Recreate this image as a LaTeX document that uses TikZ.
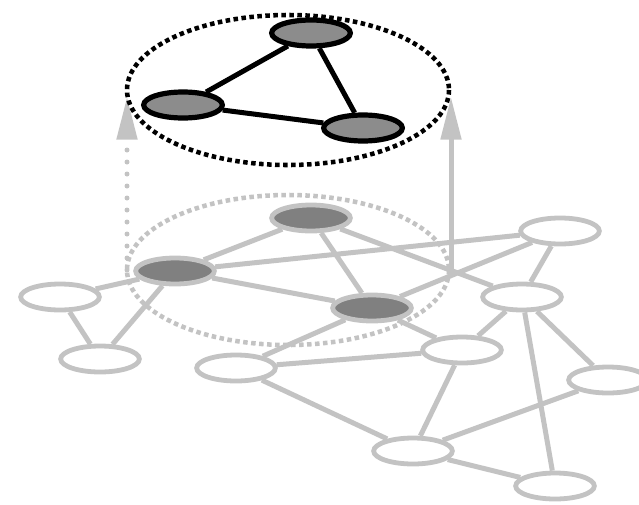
\documentclass[tikz,border=0pt]{standalone}
\usepackage{tikz}
\usetikzlibrary{shapes.geometric,arrows.meta}
\definecolor{lgray}{HTML}{C3C3C3}
\definecolor{dgray}{HTML}{808080}
\definecolor{mgray}{HTML}{8C8C8C}

\begin{document}
\begin{tikzpicture}[x=0.75pt,y=-0.75pt,
  vtx/.style={ellipse,draw=lgray,line width=3.6pt,fill=white,minimum width=59pt,minimum height=19.5pt,inner sep=0pt},
  hub/.style={vtx,fill=dgray},
  sub/.style={vtx,draw=black,fill=mgray,line width=3.9pt},
  edge/.style={lgray,line width=3.75pt},
  lift/.style={lgray,line width=3.75pt,-{Triangle[length=32pt,width=15pt]}}]
\useasboundingbox (0,0) rectangle (639,504);

\draw[lgray,line width=3.4pt,dash pattern=on 3.4pt off 2.6pt] (288,270) ellipse [x radius=161, y radius=75];

\node[hub] (1) at (311,218) {};
\node[hub] (2) at (175,271) {};
\node[hub] (3) at (372,308) {};

\node[vtx] (4) at (560,231) {};
\node[vtx] (5) at (60,297) {};
\node[vtx] (6) at (522,297) {};
\node[vtx] (7) at (100,359) {};
\node[vtx] (8) at (236,368) {};
\node[vtx] (9) at (462,350) {};
\node[vtx] (10) at (608,380) {};
\node[vtx] (11) at (413,451) {};
\node[vtx] (12) at (555,486) {};

\draw[edge] (5) -- (2) (5) -- (7) (2) -- (7) (2) -- (1) (2) -- (4) (2) -- (3)
  (1) -- (3) (1) -- (6) (3) -- (4) (3) -- (8) (3) -- (9) (4) -- (6)
  (6) -- (9) (8) -- (9) (8) -- (11) (9) -- (11) (6) -- (12) (6) -- (10)
  (10) -- (11) (11) -- (12);

\coordinate (l0) at (127,270);
\coordinate (l1) at (127,97);
\coordinate (r0) at (451,270);
\coordinate (r1) at (451,97);
\draw[lift,line cap=round,dash pattern=on 0pt off 9pt] (l0) -- (l1);
\draw[lift] (r0) -- (r1);

\draw[black,line width=3.4pt,dash pattern=on 3.4pt off 2.6pt] (288,90) ellipse [x radius=161, y radius=75];

\node[sub] (51) at (311,33) {};
\node[sub] (52) at (183,105) {};
\node[sub] (53) at (363,128) {};
\draw[black,line width=3.75pt] (51) -- (52) -- (53) -- (51);
\end{tikzpicture}
\end{document}
